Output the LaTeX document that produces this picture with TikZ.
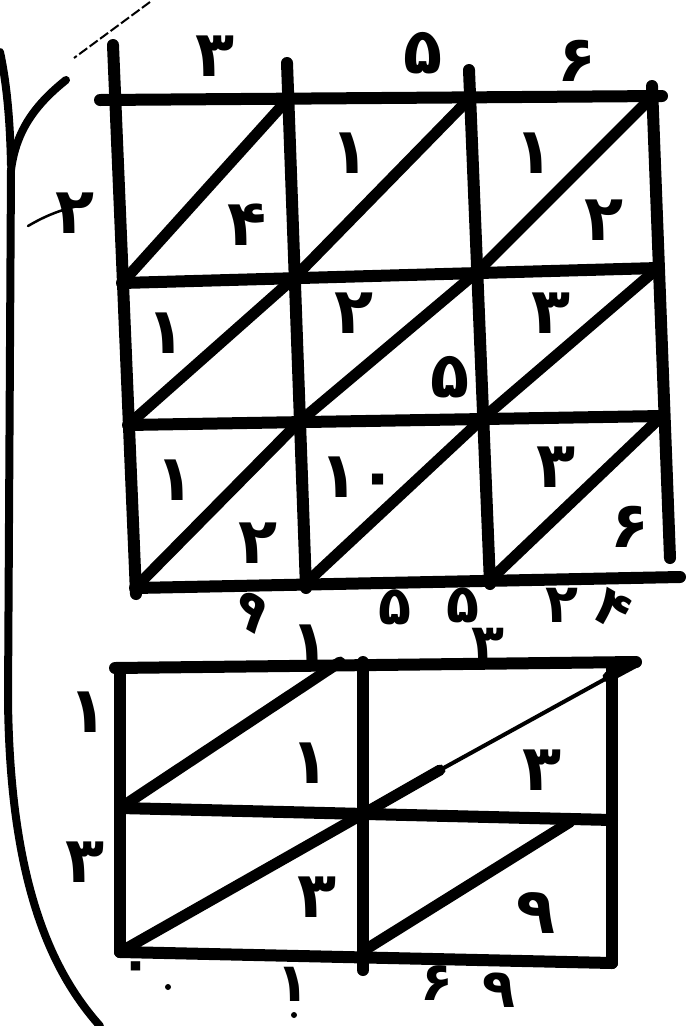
\documentclass[tikz,border=0pt]{standalone}
\usepackage{fontspec}
\newfontfamily\fa[Script=Arabic]{DejaVu Sans}
\begin{document}
\begin{tikzpicture}[x=1pt,y=-1pt,
  grid/.style={line width=12pt,line cap=round,line join=round,black},
  diag/.style={line width=11pt,line cap=round,black},
  thinline/.style={line width=4pt,line cap=round,black},
  curve/.style={line width=8pt,line cap=round,black},
  dig/.style={inner sep=0pt,font=\fa\bfseries\fontsize{64}{68}\selectfont},
  sdig/.style={inner sep=0pt,font=\fa\bfseries\fontsize{54}{58}\selectfont}]
\useasboundingbox[fill=white] (0,0) rectangle (686,1026);
% ---------- upper grid coordinates ----------
\coordinate (tL) at (100,100); \coordinate (tR) at (662,96);
\coordinate (a0) at (115,100); \coordinate (a1) at (288,99); \coordinate (a2) at (470,98); \coordinate (a3) at (653,96);
\coordinate (b0) at (122,283); \coordinate (b1) at (294,278); \coordinate (b2) at (476,273); \coordinate (b3) at (658,268);
\coordinate (c0) at (128,425); \coordinate (c1) at (299,422); \coordinate (c2) at (482,419); \coordinate (c3) at (662,416);
\coordinate (d0) at (135,588); \coordinate (d1) at (305,584); \coordinate (d2) at (490,580); \coordinate (d3) at (672,577);
\coordinate (dR) at (680,577);
\coordinate (v0) at (113,45); \coordinate (v1) at (287,63); \coordinate (v2) at (469,70); \coordinate (v3) at (652,86);
\coordinate (v0b) at (136,594); \coordinate (v1b) at (306,588); \coordinate (v2b) at (490,584); \coordinate (v3b) at (670,558);
% horizontals
\draw[grid] (tL) -- (tR);
\draw[grid] (b0) -- (b3);
\draw[grid] (c0) -- (c3);
\draw[grid] (d0) -- (dR);
% verticals
\draw[grid] (v0) -- (v0b);
\draw[grid] (v1) -- (v1b);
\draw[grid] (v2) -- (v2b);
\draw[grid] (v3) -- (v3b);
% diagonals
\draw[diag] (b0) -- (a1);
\draw[diag] (c0) -- (b1) -- (a2);
\draw[diag] (d0) -- (c1) -- (b2) -- (a3);
\draw[diag] (d1) -- (c2) -- (b3);
\draw[diag] (d2) -- (c3);
% ---------- upper grid texts ----------
\node[dig] (u11b) at (247,225) {۴};
\node[dig] (u12t) at (350,153) {۱};
\node[dig] (u13t) at (534,153) {۱};
\node[dig] (u13b) at (604,220) {۲};
\node[dig] (u21t) at (166,333) {۱};
\node[dig] (u22t) at (354,313) {۲};
\node[dig] (u22b) at (450,377) {۵};
\node[dig] (u23t) at (551,313) {۳};
\node[dig] (u31t) at (175,480) {۱};
\node[dig] (u31b) at (258,543) {۲};
\node[dig] (u32t) at (359,477) {۱۰};
\node[dig] (u33t) at (556,467) {۳};
\node[dig] (u33b) at (630,527) {۶};
\node[dig] (top1) at (215,56) {۳};
\node[dig] (top2) at (423,53) {۵};
\node[dig] (top3) at (577,61) {۶};
\node[dig] (left1) at (75,213) {۲};
\node[sdig,rotate=-30] (bot1) at (250,612) {۹};
\node[sdig] (bot2) at (395,607) {۵};
\node[sdig] (bot3) at (463,605) {۵};
\node[sdig] (bot4) at (562,605) {۲};
\node[sdig,rotate=-30] (bot5) at (613,610) {۴};
% ---------- lower grid coordinates ----------
\coordinate (p0) at (115,668); \coordinate (p1) at (363,665); \coordinate (p2) at (612,664); \coordinate (pR) at (636,662);
\coordinate (q0) at (120,808); \coordinate (q1) at (363,814); \coordinate (q2) at (612,820);
\coordinate (r0) at (120,952); \coordinate (r1) at (363,958); \coordinate (r2) at (612,963);
\coordinate (m1) at (363,662); \coordinate (m1b) at (363,970);
\coordinate (l0) at (120,668);
\coordinate (qd) at (340,662);
\coordinate (mid) at (440,770); \coordinate (nearR) at (608,677);
\coordinate (s0) at (368,948); \coordinate (s1) at (570,822);
\draw[grid] (p0) -- (pR);
\draw[grid] (q0) -- (q2);
\draw[grid] (r0) -- (r2);
\draw[grid] (l0) -- (r0);
\draw[grid] (m1) -- (m1b);
\draw[grid] (p2) -- (r2);
\draw[diag] (q0) -- (qd);
\draw[diag] (r0) -- (q1) -- (mid);
\draw[thinline] (mid) -- (pR);
\draw[diag] (nearR) -- (pR);
\draw[diag] (s0) -- (s1);
% ---------- lower grid texts ----------
\node[dig] (w11) at (310,763) {۱};
\node[dig] (w12) at (542,770) {۳};
\node[dig] (w21) at (317,897) {۳};
\node[dig] (w22) at (536,913) {۹};
\node[dig] (wt1) at (310,645) {۱};
\node[sdig] (wt2) at (488,645) {۳};
\node[dig] (wl1) at (88,712) {۱};
\node[dig] (wl2) at (85,862) {۳};
\node[sdig] (wb0) at (136,972) {۰};
\node[sdig] (wb1) at (293,984) {۱};
\node[sdig] (wb2) at (437,983) {۶};
\node[sdig] (wb3) at (499,990) {۹};
\fill (168,987) circle (3);
\fill (294,1015) circle (3);
% ---------- margin curves ----------
\draw[curve] (66,80) .. controls (36,104) and (16,130) .. (11,170) -- (8,700) .. controls (10,880) and (50,970) .. (100,1026);
\draw[curve] (0,52) .. controls (6,80) and (10,115) .. (11,165);
\draw[line width=2pt,dash pattern=on 10pt off 3pt] (150,2) -- (74,58);
\draw[line width=2.5pt,line cap=round] (28,226) .. controls (45,216) and (60,210) .. (78,206);
\end{tikzpicture}
\end{document}
